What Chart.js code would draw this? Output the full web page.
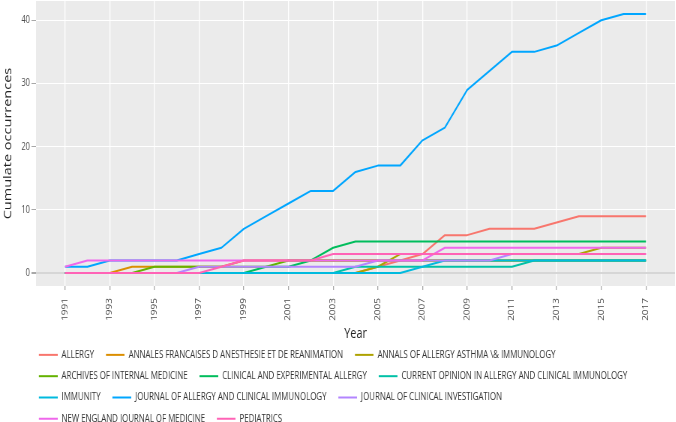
<!DOCTYPE html>
<html>
<head>
<meta charset="utf-8">
<script src="https://cdn.jsdelivr.net/npm/chart.js@4.4.0/dist/chart.umd.min.js"></script>
<style>
  html, body { margin: 0; padding: 0; background: #fff; overflow: hidden; }
  /* the reference is squeezed sideways, so draw wider and scale it down */
  #wrap { width: 901px; height: 434px; transform: scaleX(0.75); transform-origin: 0 0; }
</style>
</head>
<body>
<div id="wrap"><canvas id="lineChart"></canvas></div>
<script>
// === data ===
const years = [1991, 1992, 1993, 1994, 1995, 1996, 1997, 1998, 1999, 2000, 2001, 2002, 2003, 2004,
  2005, 2006, 2007, 2008, 2009, 2010, 2011, 2012, 2013, 2014, 2015, 2016, 2017];
const xTicks = [1991, 1993, 1995, 1997, 1999, 2001, 2003, 2005, 2007, 2009, 2011, 2013, 2015, 2017];
const yTicks = [0, 10, 20, 30, 40];

const journals = [
  'ALLERGY',
  'ANNALES FRANCAISES D ANESTHESIE ET DE REANIMATION',
  'ANNALS OF ALLERGY ASTHMA \\& IMMUNOLOGY',
  'ARCHIVES OF INTERNAL MEDICINE',
  'CLINICAL AND EXPERIMENTAL ALLERGY',
  'CURRENT OPINION IN ALLERGY AND CLINICAL IMMUNOLOGY',
  'IMMUNITY',
  'JOURNAL OF ALLERGY AND CLINICAL IMMUNOLOGY',
  'JOURNAL OF CLINICAL INVESTIGATION',
  'NEW ENGLAND JOURNAL OF MEDICINE',
  'PEDIATRICS'
];
const colors = ['#F8766D', '#DB8E00', '#AEA200', '#64B200', '#00BD5C', '#00C1A7',
  '#00BADE', '#00A6FF', '#B385FF', '#EF67EB', '#FF63B6'];

const allergy     = [0,0,0,0,0,0,0,0,0,0,0,0,0,0, 1,2,3,6,6,7,7,7,8,9,9,9,9];
const annales     = [0,0,0,1,1,1,1,1,2,2,2,2,2,2, 2,2,2,2,2,2,2,2,2,2,2,2,2];
const annals      = [0,0,0,0,0,0,0,0,0,0,0,0,0,0, 1,3,3,3,3,3,3,3,3,3,4,4,4];
const archives    = [0,0,0,0,1,1,1,1,1,1,2,2,2,2, 2,2,2,2,2,2,2,2,2,2,2,2,2];
const clinExp     = [0,0,0,0,0,0,0,0,0,1,1,2,4,5, 5,5,5,5,5,5,5,5,5,5,5,5,5];
const currentOp   = [0,0,0,0,0,0,0,0,0,0,0,0,0,1, 1,1,1,1,1,1,1,2,2,2,2,2,2];
const immunity    = [0,0,0,0,0,0,0,0,0,0,0,0,0,0, 0,0,1,2,2,2,2,2,2,2,2,2,2];
const jaci        = [1,1,2,2,2,2,3,4,7,9,11,13,13,16, 17,17,21,23,29,32,35,35,36,38,40,41,41];
const jci         = [0,0,0,0,0,0,1,1,1,1,1,1,1,1, 2,2,2,2,2,2,3,3,3,3,3,3,3];
const nejm        = [1,2,2,2,2,2,2,2,2,2,2,2,2,2, 2,2,2,4,4,4,4,4,4,4,4,4,4];
const pediatrics  = [0,0,0,0,0,0,0,1,2,2,2,2,3,3, 3,3,3,3,3,3,3,3,3,3,3,3,3];

const series = [allergy, annales, annals, archives, clinExp, currentOp,
  immunity, jaci, jci, nejm, pediatrics];

const FONT = '"Open Sans", sans-serif';

// legend marker: short line, small gap on its left
function legendIcon(color) {
  const c = document.createElement('canvas');
  c.width = 30;
  c.height = 4;
  const g = c.getContext('2d');
  g.strokeStyle = color;
  g.lineWidth = 2;
  g.beginPath();
  g.moveTo(5, 2);
  g.lineTo(30, 2);
  g.stroke();
  return c;
}
const icons = colors.map(legendIcon);

// grey panel behind the lines
const plotBg = {
  id: 'plotBg',
  beforeDraw(chart) {
    const { ctx, chartArea: a } = chart;
    ctx.save();
    ctx.fillStyle = '#EBEBEB';
    ctx.fillRect(a.left, a.top, a.right - a.left, a.bottom - a.top);
    ctx.restore();
  }
};

// legend starts a bit to the right of the canvas edge
const legendShift = {
  id: 'legendShift',
  afterLayout(chart) {
    if (chart.legend) chart.legend.left += 36;
  }
};

const datasets = journals.map((name, i) => ({
  label: name,
  data: years.map((yr, j) => ({ x: yr, y: series[i][j] })),
  borderColor: colors[i],
  backgroundColor: colors[i],
  borderWidth: 2,
  borderJoinStyle: 'round',
  pointRadius: 0,
  tension: 0,
  fill: false,
  order: journals.length - i   // later journals on top, like the reference
}));

new Chart(document.getElementById('lineChart'), {
  type: 'line',
  data: { datasets },
  options: {
    responsive: true,
    maintainAspectRatio: false,
    animation: false,
    events: [],
    plugins: {
      tooltip: { enabled: false },
      legend: {
        position: 'bottom',
        align: 'start',
        labels: {
          usePointStyle: true,
          pointStyleWidth: 30,
          padding: 10.8,
          color: '#333',
          font: { family: FONT, size: 10.5 },
          generateLabels: chart => Chart.defaults.plugins.legend.labels.generateLabels(chart)
            .sort((a, b) => a.datasetIndex - b.datasetIndex)
            .map(item => Object.assign(item, { pointStyle: icons[item.datasetIndex] }))
        }
      }
    },
    scales: {
      x: {
        type: 'linear',
        min: 1989.7,
        max: 2018.3,
        afterBuildTicks: axis => { axis.ticks = xTicks.map(v => ({ value: v })); },
        afterFit: axis => { axis.height = 52.8; axis.paddingLeft = 0; axis.paddingRight = 0; },
        border: { display: false },
        grid: { color: '#FFFFFF', lineWidth: 1.3, tickLength: 4, tickColor: '#A8A8A8', tickWidth: 1.3 },
        ticks: {
          minRotation: 90,
          maxRotation: 90,
          autoSkip: false,
          padding: 8,
          color: '#4D4D4D',
          font: { family: FONT, size: 10 },
          callback: v => String(v)
        },
        title: {
          display: true,
          text: 'Year',
          color: '#222',
          font: { family: FONT, size: 14.5, lineHeight: 1 },
          padding: { top: 0, bottom: -2.5 }
        }
      },
      y: {
        min: -2.05,
        max: 43.05,
        afterBuildTicks: axis => { axis.ticks = yTicks.map(v => ({ value: v })); },
        afterFit: axis => { axis.width = 48; axis.paddingTop = 0; axis.paddingBottom = 0; },
        border: { display: false },
        grid: {
          color: c => (c.tick && c.tick.value === 0 ? '#D6D6D6' : '#FFFFFF'),
          lineWidth: c => (c.tick && c.tick.value === 0 ? 2 : 1),
          tickLength: 6,
          tickColor: '#A8A8A8'
        },
        ticks: {
          padding: 2,
          color: '#4D4D4D',
          font: { family: FONT, size: 10 },
          callback: v => String(v)
        },
        title: {
          display: true,
          text: 'Cumulate occurrences',
          color: '#222',
          font: { family: FONT, size: 14.5, lineHeight: 1 },
          padding: { top: 3.5, bottom: 0 }
        }
      }
    }
  },
  plugins: [plotBg, legendShift]
});
</script>
</body>
</html>
